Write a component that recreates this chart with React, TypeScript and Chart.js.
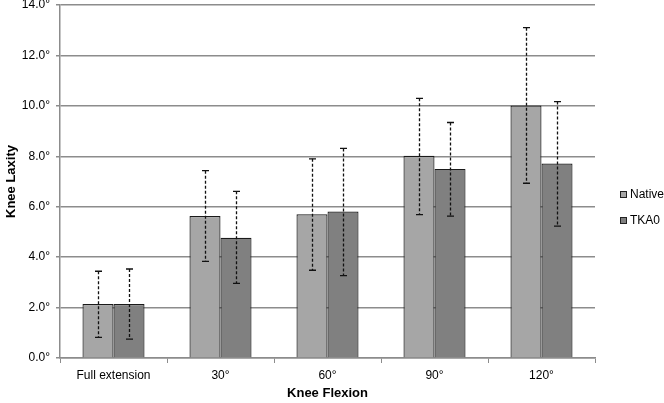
import React, { useEffect, useRef } from "react";
import { Chart, registerables } from "chart.js";

Chart.register(...registerables);

const categories = ["Full extension", "30°", "60°", "90°", "120°"];
const seriesNames = ["Native", "TKA0"];
const nativeMean = [2.14, 5.63, 5.7, 8.02, 10.01];
const nativeHigh = [3.44, 7.43, 7.9, 10.3, 13.1];
const nativeLow = [0.82, 3.83, 3.48, 5.69, 6.93];
const tkaMean = [2.14, 4.77, 5.81, 7.5, 7.71];
const tkaHigh = [3.53, 6.61, 8.31, 9.34, 10.17];
const tkaLow = [0.75, 2.96, 3.27, 5.63, 5.23];
const yTicks = [0, 2, 4, 6, 8, 10, 12, 14];

const FONT = "'Liberation Sans', Arial, sans-serif";

const errorBarPlugin = {
  id: "errorBars",
  afterDatasetsDraw(chart: any) {
    const ctx = chart.ctx;
    const yScale = chart.scales.y;
    chart.data.datasets.forEach((ds: any, i: number) => {
      const meta = chart.getDatasetMeta(i);
      meta.data.forEach((el: any, j: number) => {
        const x = Math.round(el.x) + 0.5;
        const yH = yScale.getPixelForValue(ds.errHigh[j]);
        const yL = yScale.getPixelForValue(ds.errLow[j]);
        ctx.save();
        ctx.strokeStyle = "#111";
        ctx.lineWidth = 1.3;
        ctx.setLineDash([3, 2]);
        ctx.beginPath();
        ctx.moveTo(x, yH);
        ctx.lineTo(x, yL);
        ctx.stroke();
        ctx.setLineDash([]);
        ctx.lineWidth = 1.3;
        ctx.beginPath();
        ctx.moveTo(x - 3.5, yH);
        ctx.lineTo(x + 3.5, yH);
        ctx.moveTo(x - 3.5, yL);
        ctx.lineTo(x + 3.5, yL);
        ctx.stroke();
        ctx.restore();
      });
    });
  },
};

const legendPlugin = {
  id: "customLegend",
  afterDraw(chart: any) {
    const ctx = chart.ctx;
    const area = chart.chartArea;
    const x0 = area.right + 25;
    chart.data.datasets.forEach((ds: any, i: number) => {
      const cy = chart.height / 2 - 7 + i * 26;
      ctx.save();
      ctx.fillStyle = ds.backgroundColor;
      ctx.fillRect(x0, cy - 3.5, 7, 7);
      ctx.strokeStyle = "#222";
      ctx.lineWidth = 1;
      ctx.strokeRect(x0 + 0.5, cy - 3.5 + 0.5, 6, 6);
      ctx.fillStyle = "#000";
      ctx.font = `12px ${FONT}`;
      ctx.textBaseline = "middle";
      ctx.textAlign = "left";
      ctx.fillText(ds.label, x0 + 10, cy);
      ctx.restore();
    });
  },
};

export default function App() {
  const ref = useRef<HTMLCanvasElement | null>(null);
  useEffect(() => {
    if (!ref.current) return;
    const chart = new Chart(ref.current, {
      type: "bar",
      data: {
        labels: categories,
        datasets: [
          {
            label: seriesNames[0],
            data: nativeMean,
            errHigh: nativeHigh,
            errLow: nativeLow,
            backgroundColor: "#a6a6a6",
            borderColor: "#1a1a1a",
            borderWidth: 1.2,
            categoryPercentage: 0.58,
            barPercentage: 1.0,
          } as any,
          {
            label: seriesNames[1],
            data: tkaMean,
            errHigh: tkaHigh,
            errLow: tkaLow,
            backgroundColor: "#808080",
            borderColor: "#1a1a1a",
            borderWidth: 1.2,
            categoryPercentage: 0.58,
            barPercentage: 1.0,
          } as any,
        ],
      },
      options: {
        animation: false,
        responsive: true,
        maintainAspectRatio: false,
        layout: { padding: { left: 4, right: 69, top: 5, bottom: 0 } },
        plugins: {
          legend: { display: false },
          tooltip: { enabled: false },
        },
        scales: {
          x: {
            grid: {
              offset: true,
              drawOnChartArea: false,
              tickLength: 5,
              color: "#8c8c8c",
            },
            border: { color: "#8c8c8c", width: 1.5 },
            ticks: {
              color: "#000",
              font: { family: FONT, size: 12 },
              padding: 5,
              maxRotation: 0,
            },
            title: {
              display: true,
              text: "Knee Flexion",
              color: "#000",
              font: { family: FONT, size: 13, weight: "bold" },
              padding: { top: 4, bottom: 2 },
            },
            afterFit: (scale: any) => {
              scale.height = 45;
              scale.paddingLeft = 0;
              scale.paddingRight = 0;
            },
          },
          y: {
            min: 0,
            max: 14,
            afterBuildTicks: (scale: any) => {
              scale.ticks = yTicks.map((v) => ({ value: v }));
            },
            grid: {
              color: "#8c8c8c",
              lineWidth: 1.5,
              tickLength: 4,
            },
            border: { color: "#8c8c8c", width: 1.5 },
            ticks: {
              color: "#000",
              font: { family: FONT, size: 12 },
              padding: 6,
              callback: (v: any) => Number(v).toFixed(1) + "°",
            },
            title: {
              display: true,
              text: "Knee Laxity",
              color: "#000",
              font: { family: FONT, size: 13, weight: "bold" },
              padding: { top: 0, bottom: 0 },
            },
            afterFit: (scale: any) => {
              scale.width = 56;
              scale.paddingTop = 0;
              scale.paddingBottom = 0;
            },
          },
        },
      },
      plugins: [errorBarPlugin, legendPlugin],
    });
    return () => chart.destroy();
  }, []);
  return (
    <div style={{ position: "fixed", left: 0, top: 0, width: 664, height: 403, background: "#fff" }}>
      <canvas ref={ref} />
    </div>
  );
}
